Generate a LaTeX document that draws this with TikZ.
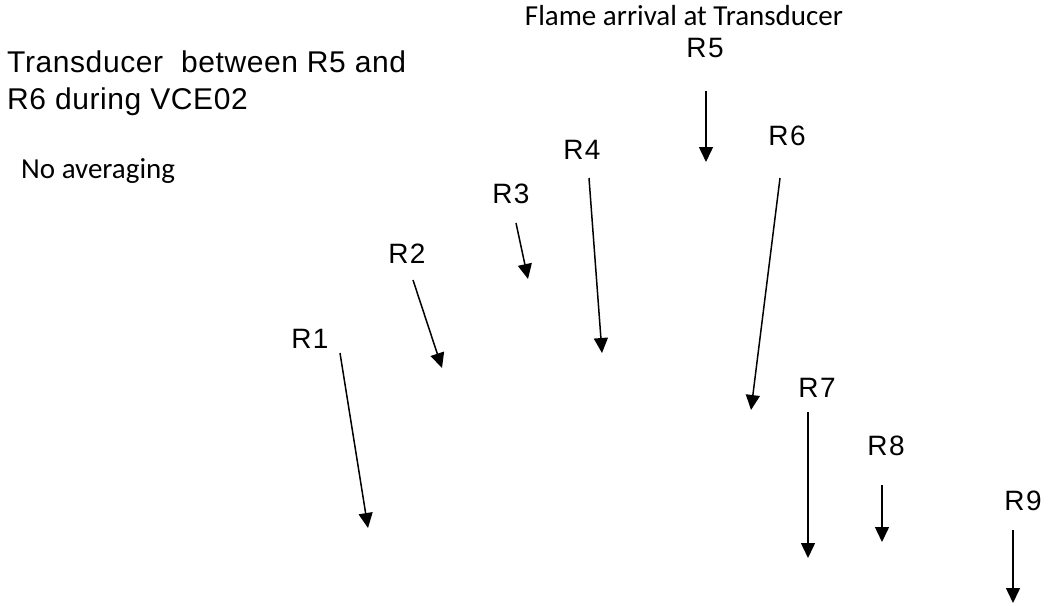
\documentclass[tikz,border=0pt]{standalone}
\usepackage{fontspec}
\setmainfont{Liberation Sans}
\newfontfamily\arialsp[LetterSpace=5]{Liberation Sans}
\newfontfamily\titlesp[LetterSpace=2]{Liberation Sans}
\newfontfamily\calib{Carlito}
\usetikzlibrary{arrows.meta}
\tikzset{
  rlabel/.style={inner sep=0pt, anchor=base, font=\arialsp\fontsize{28}{32}\selectfont},
  note/.style={inner sep=0pt, font=\calib\fontsize{29}{34}\selectfont},
  arr/.style={line width=1.5pt, -{Triangle[length=15pt,width=14pt]}}
}
\begin{document}
\begin{tikzpicture}[x=1pt,y=-1pt]
\useasboundingbox[fill=white] (0,0) rectangle (1049,605);
% titles
\node[inner sep=0pt, anchor=base west, font=\titlesp\fontsize{30}{36}\selectfont] (t1) at (7,72) {Transducer\ \ between R5 and};
\node[inner sep=0pt, anchor=base west, font=\titlesp\fontsize{30}{36}\selectfont] (t2) at (7,109) {R6 during VCE02};
\node[note, anchor=base west] (noavg) at (21,178) {No averaging};
\node[note, anchor=base] (flame) at (684,25) {Flame arrival at Transducer};
% labels
\node[rlabel] (R1) at (310,348) {R1};
\node[rlabel] (R2) at (407,263) {R2};
\node[rlabel] (R3) at (511,203) {R3};
\node[rlabel] (R4) at (582,159) {R4};
\node[rlabel] (R5) at (705,57) {R5};
\node[rlabel] (R6) at (787,145) {R6};
\node[rlabel] (R7) at (817,397) {R7};
\node[rlabel] (R8) at (886,455) {R8};
\node[rlabel] (R9) at (1023,510) {R9};
% arrow endpoints
\coordinate (a1s) at (340,353); \coordinate (a1e) at (368,528);
\coordinate (a2s) at (413,280); \coordinate (a2e) at (442,368);
\coordinate (a3s) at (516,223); \coordinate (a3e) at (528,279);
\coordinate (a4s) at (589,178); \coordinate (a4e) at (602,353);
\coordinate (a5s) at (706,91);  \coordinate (a5e) at (706,162);
\coordinate (a6s) at (780,178); \coordinate (a6e) at (751,410);
\coordinate (a7s) at (808,412); \coordinate (a7e) at (808,558);
\coordinate (a8s) at (882,485); \coordinate (a8e) at (882,542);
\coordinate (a9s) at (1013,530); \coordinate (a9e) at (1013,603);
\foreach \i in {1,...,9} { \draw[arr] (a\i s) -- (a\i e); }
\end{tikzpicture}
\end{document}
